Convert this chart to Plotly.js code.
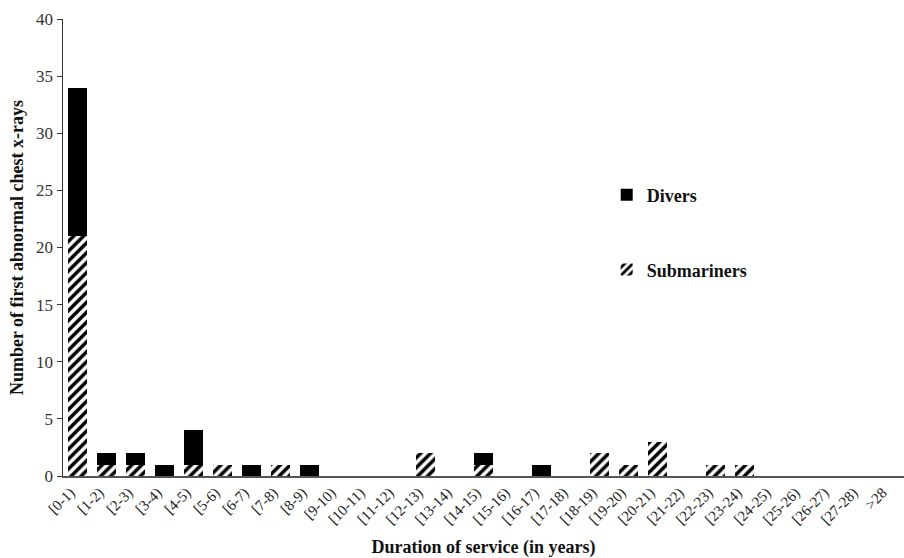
<!DOCTYPE html>
<html>
<head>
<meta charset="utf-8">
<script src="https://cdn.plot.ly/plotly-3.0.1.min.js"></script>
<style>html,body{margin:0;padding:0;background:#fff;}#chart{width:904px;height:558px;}</style>
</head>
<body>
<div id="chart"></div>
<script>
const categories = ["[0-1)","[1-2)","[2-3)","[3-4)","[4-5)","[5-6)","[6-7)","[7-8)","[8-9)","[9-10)","[10-11)","[11-12)","[12-13)","[13-14)","[14-15)","[15-16)","[16-17)","[17-18)","[18-19)","[19-20)","[20-21)","[21-22)","[22-23)","[23-24)","[24-25)","[25-26)","[26-27)","[27-28)",">28"];
const submariners = [21,1,1,0,1,1,0,1,0,0,0,0,2,0,1,0,0,0,2,1,3,0,1,1,0,0,0,0,0];
const divers =      [13,1,1,1,3,0,1,0,1,0,0,0,0,0,1,0,1,0,0,0,0,0,0,0,0,0,0,0,0];
const yTicks = [0,5,10,15,20,25,30,35,40];

const serif = "Liberation Serif, Times New Roman, serif";

const traces = [
  {
    type: "bar", name: "<b>Submariners</b>", x: categories, y: submariners,
    legend: "legend2",
    marker: {color: "#ffffff", line: {width: 0},
      pattern: {shape: "/", fgcolor: "#000000", bgcolor: "#ffffff", size: 7, solidity: 0.5}},
    hoverinfo: "x+y+name"
  },
  {
    type: "bar", name: "<b>Divers</b>", x: categories, y: divers,
    legend: "legend",
    marker: {color: "#000000", line: {width: 0}},
    hoverinfo: "x+y+name"
  }
];

const layout = {
  width: 904, height: 558,
  margin: {l: 63, r: 0, t: 19, b: 82},
  paper_bgcolor: "#ffffff", plot_bgcolor: "#ffffff",
  barmode: "stack", bargap: 0.32,
  font: {family: serif, color: "#222", size: 14},
  xaxis: {
    type: "category", tickangle: -45, showgrid: false, zeroline: false,
    showline: true, linecolor: "#555", linewidth: 2, ticks: "",
    ticklabelshift: -7,
    tickfont: {family: serif, size: 15, color: "#222"},
    title: {text: "<b>Duration of service (in years)</b>", font: {family: serif, size: 18, color: "#111"}, standoff: 14},
    automargin: false
  },
  yaxis: {
    range: [0, 40], tickvals: yTicks, showgrid: false, zeroline: false,
    showline: true, linecolor: "#333", linewidth: 1.5, ticks: "outside", ticklen: 5, tickcolor: "#333",
    tickfont: {family: serif, size: 17, color: "#333"},
    title: {text: "<b>Number of first abnormal chest x-rays</b>", font: {family: serif, size: 18, color: "#111"}, standoff: 8},
    automargin: false
  },
  showlegend: true,
  legend: {x: 0.6465, y: 0.615, xanchor: "left", yanchor: "middle", bgcolor: "rgba(0,0,0,0)",
    font: {family: serif, size: 18, color: "#111"}, itemwidth: 30},
  legend2: {x: 0.6465, y: 0.451, xanchor: "left", yanchor: "middle", bgcolor: "rgba(0,0,0,0)",
    font: {family: serif, size: 18, color: "#111"}, itemwidth: 30}
};

Plotly.newPlot("chart", traces, layout, {displayModeBar: false, staticPlot: true});
</script>
</body>
</html>
